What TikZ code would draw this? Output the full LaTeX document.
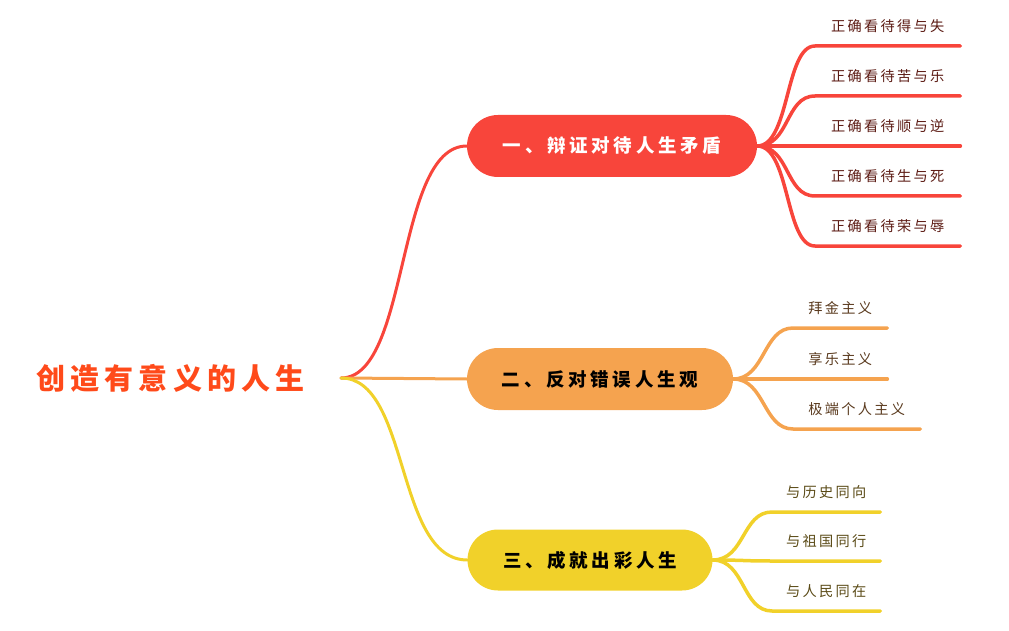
\documentclass[tikz,border=0pt]{standalone}
\usepackage{fontspec}
\usetikzlibrary{shapes.misc}
\newfontfamily\rootfont[LetterSpace=18]{Noto Sans CJK SC}
\newfontfamily\brfont[LetterSpace=20]{Noto Sans CJK SC}
\newfontfamily\leaffont[LetterSpace=16]{Noto Sans CJK SC}
\definecolor{cred}{HTML}{F8453B}
\definecolor{corange}{HTML}{F5A34F}
\definecolor{cyellow}{HTML}{F1D12A}
\definecolor{croot}{HTML}{FF4A1A}
\definecolor{tred}{HTML}{5C1B14}
\definecolor{torange}{HTML}{5A3A1E}
\definecolor{tyellow}{HTML}{5A4A16}
\begin{document}
\begin{tikzpicture}[x=1pt,y=-1pt,
  branchbox/.style={rounded rectangle, minimum height=62pt, inner sep=0pt,
    font=\brfont\bfseries\fontsize{18.5}{20}\selectfont},
  leafbox/.style={minimum height=40pt, inner sep=0pt, anchor=south west,
    font=\leaffont\fontsize{14.2}{16}\selectfont},
  rootline/.style={line width=3pt, line cap=round},
  leafline/.style={line width=3.5pt, line cap=round}]
\useasboundingbox (0,0) rectangle (1009,631);
% root
\node[anchor=west, text=croot, inner sep=0pt, font=\rootfont\bfseries\fontsize{29}{31}\selectfont] (root) at (36,378) {创造有意义的人生};
\coordinate (rootout) at (341,378);
% branches
\node[branchbox, fill=cred, text=white, minimum width=290pt] (b1) at (612,146) {一、辩证对待人生矛盾};
\node[branchbox, fill=corange, text=black, minimum width=266pt] (b2) at (600,379) {二、反对错误人生观};
\node[branchbox, fill=cyellow, text=black, minimum width=245pt, minimum height=61pt] (b3) at (590,560) {三、成就出彩人生};
% root connectors
\draw[rootline, cred] (rootout) .. controls (410,378) and (395,146) .. (b1.west);
\draw[rootline, corange] (rootout) -- (b2.west);
\draw[rootline, cyellow] (rootout) .. controls (410,378) and (395,560) .. (b3.west);
% red leaves
\foreach \i/\y/\t in {1/46/正确看待得与失, 2/96/正确看待苦与乐, 3/146/正确看待顺与逆, 4/196/正确看待生与死, 5/246/正确看待荣与辱}{
  \node[leafbox, text=tred, minimum width=145pt] (r\i) at (815,\y) {\t};
  \draw[leafline, cred] (b1.east) .. controls (790,146) and (785,\y) .. (r\i.south west) -- (r\i.south east);
}
% orange leaves
\foreach \i/\y/\w/\t in {1/328/94/拜金主义, 2/379/94/享乐主义, 3/429/127/极端个人主义}{
  \node[leafbox, text=torange, minimum width=\w pt] (o\i) at (793,\y) {\t};
  \draw[leafline, corange] (b2.east) .. controls (765,379) and (763,\y) .. (o\i.south west) -- (o\i.south east);
}
% yellow leaves
\foreach \i/\y/\t in {1/512/与历史同向, 2/561/与祖国同行, 3/611/与人民同在}{
  \node[leafbox, text=tyellow, minimum width=108pt] (y\i) at (772,\y) {\t};
  \draw[leafline, cyellow] (b3.east) .. controls (745,560) and (742,\y) .. (y\i.south west) -- (y\i.south east);
}
\end{tikzpicture}
\end{document}
